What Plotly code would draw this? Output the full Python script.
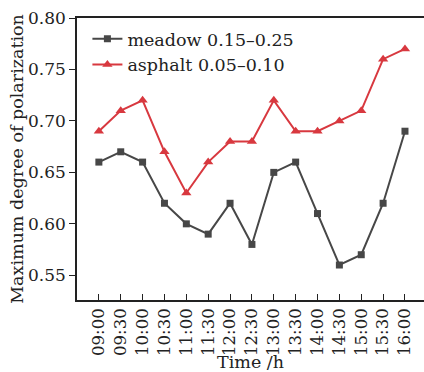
import plotly.graph_objects as go

times = ["09:00", "09:30", "10:00", "10:30", "11:00", "11:30", "12:00", "12:30",
         "13:00", "13:30", "14:00", "14:30", "15:00", "15:30", "16:00"]
meadow = [0.66, 0.67, 0.66, 0.62, 0.60, 0.59, 0.62, 0.58, 0.65, 0.66, 0.61, 0.56, 0.57, 0.62, 0.69]
asphalt = [0.69, 0.71, 0.72, 0.67, 0.63, 0.66, 0.68, 0.68, 0.72, 0.69, 0.69, 0.70, 0.71, 0.76, 0.77]
yticks = [0.55, 0.60, 0.65, 0.70, 0.75, 0.80]

xs = list(range(len(times)))
FONT = "DejaVu Serif"

fig = go.Figure()
fig.add_trace(go.Scatter(x=xs, y=meadow, mode="lines+markers", name="meadow 0.15\u20130.25",
                         line=dict(color="#474747", width=2),
                         marker=dict(symbol="square", size=7, color="#474747")))
fig.add_trace(go.Scatter(x=xs, y=asphalt, mode="lines+markers", name="asphalt 0.05\u20130.10",
                         line=dict(color="#d8383f", width=2),
                         marker=dict(symbol="triangle-up", size=9, color="#d8383f")))

fig.update_layout(
    width=424, height=372,
    margin=dict(l=77, r=0, t=18, b=72),
    paper_bgcolor="white", plot_bgcolor="white",
    font=dict(family=FONT, size=17, color="#222"),
    showlegend=True,
    legend=dict(x=0.03, y=0.99, xanchor="left", yanchor="top",
                bgcolor="rgba(0,0,0,0)", font=dict(family=FONT, size=17.5),
                tracegroupgap=0, itemwidth=30),
    xaxis=dict(range=[-1, 14.87], tickmode="array", tickvals=xs, ticktext=times,
               tickangle=-90, ticks="inside", ticklen=6, tickcolor="#222",
               showline=True, linecolor="#222", linewidth=1.5, mirror=True,
               showgrid=False, zeroline=False,
               title=dict(text="Time /h", font=dict(family=FONT, size=17.5), standoff=3),
               tickfont=dict(family=FONT, size=16.5)),
    yaxis=dict(range=[0.526, 0.80], tickmode="array", tickvals=yticks,
               ticktext=[f"{v:.2f}" for v in yticks],
               ticks="outside", ticklen=6, tickcolor="#222",
               showline=True, linecolor="#222", linewidth=1.5,
               showgrid=False, zeroline=False,
               title=dict(text="Maximum degree of polarization", font=dict(family=FONT, size=17.5), standoff=0),
               tickfont=dict(family=FONT, size=17)),
)

fig.write_html("out.html")
